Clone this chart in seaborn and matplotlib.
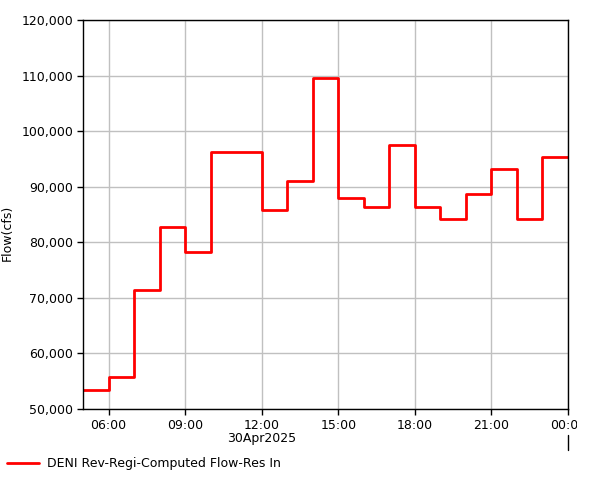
import pandas as pd
import matplotlib.pyplot as plt
import matplotlib.dates as mdates
from matplotlib.transforms import Bbox, TransformedBbox
import seaborn as sns

# hourly flow, start of each hour from 05:00 to 23:00 on 30Apr2025
hours = list(range(5, 24))
flow = [53400, 55750, 71350, 82700, 78200, 96200, 96200, 85750, 90950, 109500,
        87900, 86300, 97500, 86300, 84200, 88700, 93150, 84200, 95350]
series_name = 'DENI Rev-Regi-Computed Flow-Res In'
date_label = '30Apr2025'

times = [pd.Timestamp(2025, 4, 30, h) for h in hours] + [pd.Timestamp(2025, 5, 1, 0)]
data = pd.DataFrame({'time': times, 'flow': flow + [flow[-1]]})

sns.set_style('white')
plt.rcParams['font.family'] = ['DejaVu Sans']
plt.rcParams['font.size'] = 9
for k in ['text.color', 'xtick.color', 'ytick.color', 'axes.labelcolor']:
    plt.rcParams[k] = 'black'

fig = plt.figure(figsize=(6.01, 4.80), dpi=100)
ax = fig.add_axes([83 / 601, 1 - 409 / 480, 485 / 601, 389 / 480])

sns.lineplot(data=data, x='time', y='flow', ax=ax, color='#ff0000', linewidth=2,
             drawstyle='steps-post', label=series_name, legend=False)

ax.set_xlim(pd.Timestamp(2025, 4, 30, 5), pd.Timestamp(2025, 5, 1, 0))
ax.set_ylim(50000, 120000)
ax.set_yticks(range(50000, 120001, 10000))
ax.yaxis.set_major_formatter(plt.FuncFormatter(lambda v, p: f'{int(v):,}'))
ax.xaxis.set_major_locator(mdates.HourLocator(byhour=[0, 6, 9, 12, 15, 18, 21]))
ax.xaxis.set_major_formatter(mdates.DateFormatter('%H:%M'))
ax.grid(True, color='#c0c0c0', linewidth=1)
ax.tick_params(direction='out', length=4, width=1, color='black', labelcolor='black',
               labelsize=9, bottom=True, left=True, pad=3)
for s in ax.spines.values():
    s.set_color('black')
    s.set_linewidth(1)
ax.set_xlabel('')
ax.set_ylabel('')

# date under noon tick, and long separator tick at midnight
ax.text(pd.Timestamp(2025, 4, 30, 12), -0.075, date_label, transform=ax.get_xaxis_transform(),
        ha='center', va='center', fontsize=9, color='black')
ax.plot([pd.Timestamp(2025, 5, 1, 0)] * 2, [-0.067, -0.105], transform=ax.get_xaxis_transform(),
        color='black', linewidth=1, clip_on=False)

fig.text(7 / 601, 1 - 233 / 480, 'Flow(cfs)', rotation=90, ha='center', va='center',
         fontsize=9, color='black')

fig.canvas.draw()
clip = TransformedBbox(Bbox([[0, 0], [577 / 601, 1]]), fig.transFigure)
for lab in ax.get_xticklabels():
    lab.set_clip_on(True)
    lab.set_clip_box(clip)

handles, labels = ax.get_legend_handles_labels()
fig.legend(handles, labels, loc='center left', bbox_to_anchor=(7 / 601, 1 - 464 / 480),
           frameon=False, fontsize=9, handlelength=2.56, handletextpad=0.64,
           borderaxespad=0, borderpad=0)

plt.savefig('out.png', dpi=100)
